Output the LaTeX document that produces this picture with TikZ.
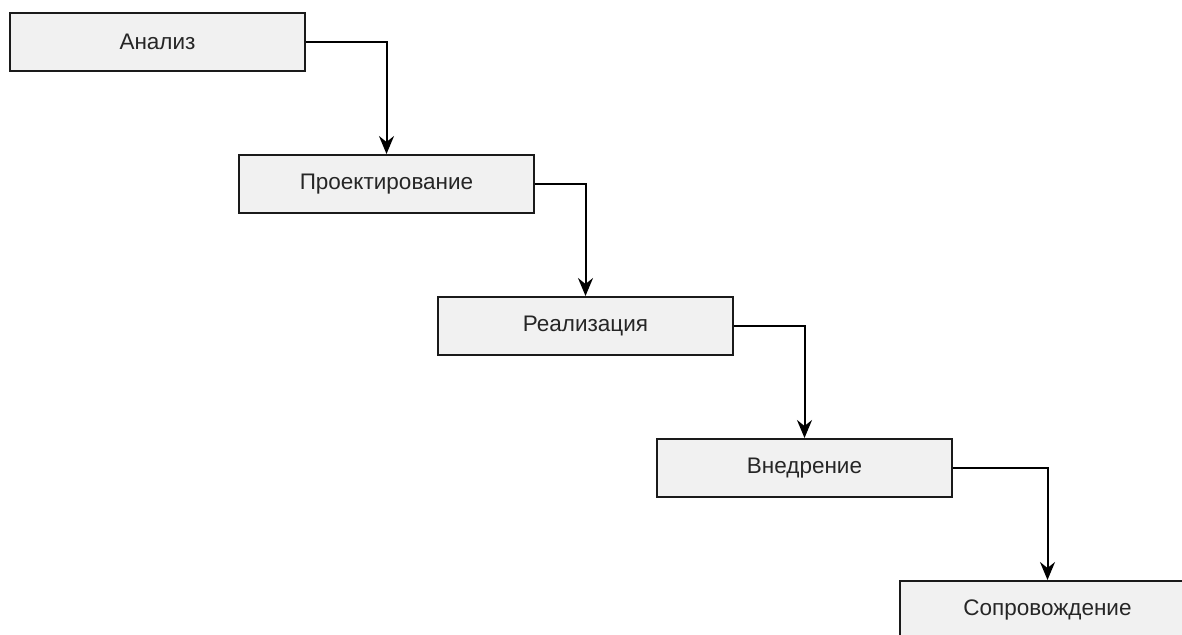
\documentclass[tikz,border=0pt]{standalone}
\usepackage{fontspec}
\setmainfont{Liberation Sans}
\usetikzlibrary{arrows.meta}
\definecolor{boxfill}{HTML}{F1F1F1}
\definecolor{edge}{HTML}{1A1A1A}
\tikzset{
  stagebox/.style={draw=edge, line width=2pt, fill=boxfill, minimum width=295pt, minimum height=58pt, inner sep=0pt, font=\fontsize{22.5}{26}\selectfont, text=black!85, anchor=north west},
  flow/.style={draw=black, line width=2pt, -{Stealth[length=18pt,width=15pt,inset=6pt]}}
}
\begin{document}
\begin{tikzpicture}[x=1pt,y=-1pt]
\useasboundingbox (0,0) rectangle (1182,634);
\clip (0,0) rectangle (1182,634);
\fill[white] (0,0) rectangle (1182,634);
\node[stagebox] (a) at (9,12) {Анализ};
\node[stagebox] (b) at (238,154) {Проектирование};
\node[stagebox] (c) at (437,296) {Реализация};
\node[stagebox] (d) at (656,438) {Внедрение};
\node[stagebox] (e) at (899,580) {Сопровождение};
\fill[white] (1182,575) rectangle (1200,640);
\draw[flow] (a.east) -| (b.north);
\draw[flow] (b.east) -| (c.north);
\draw[flow] (c.east) -| (d.north);
\draw[flow] (d.east) -| (e.north);
\end{tikzpicture}
\end{document}
